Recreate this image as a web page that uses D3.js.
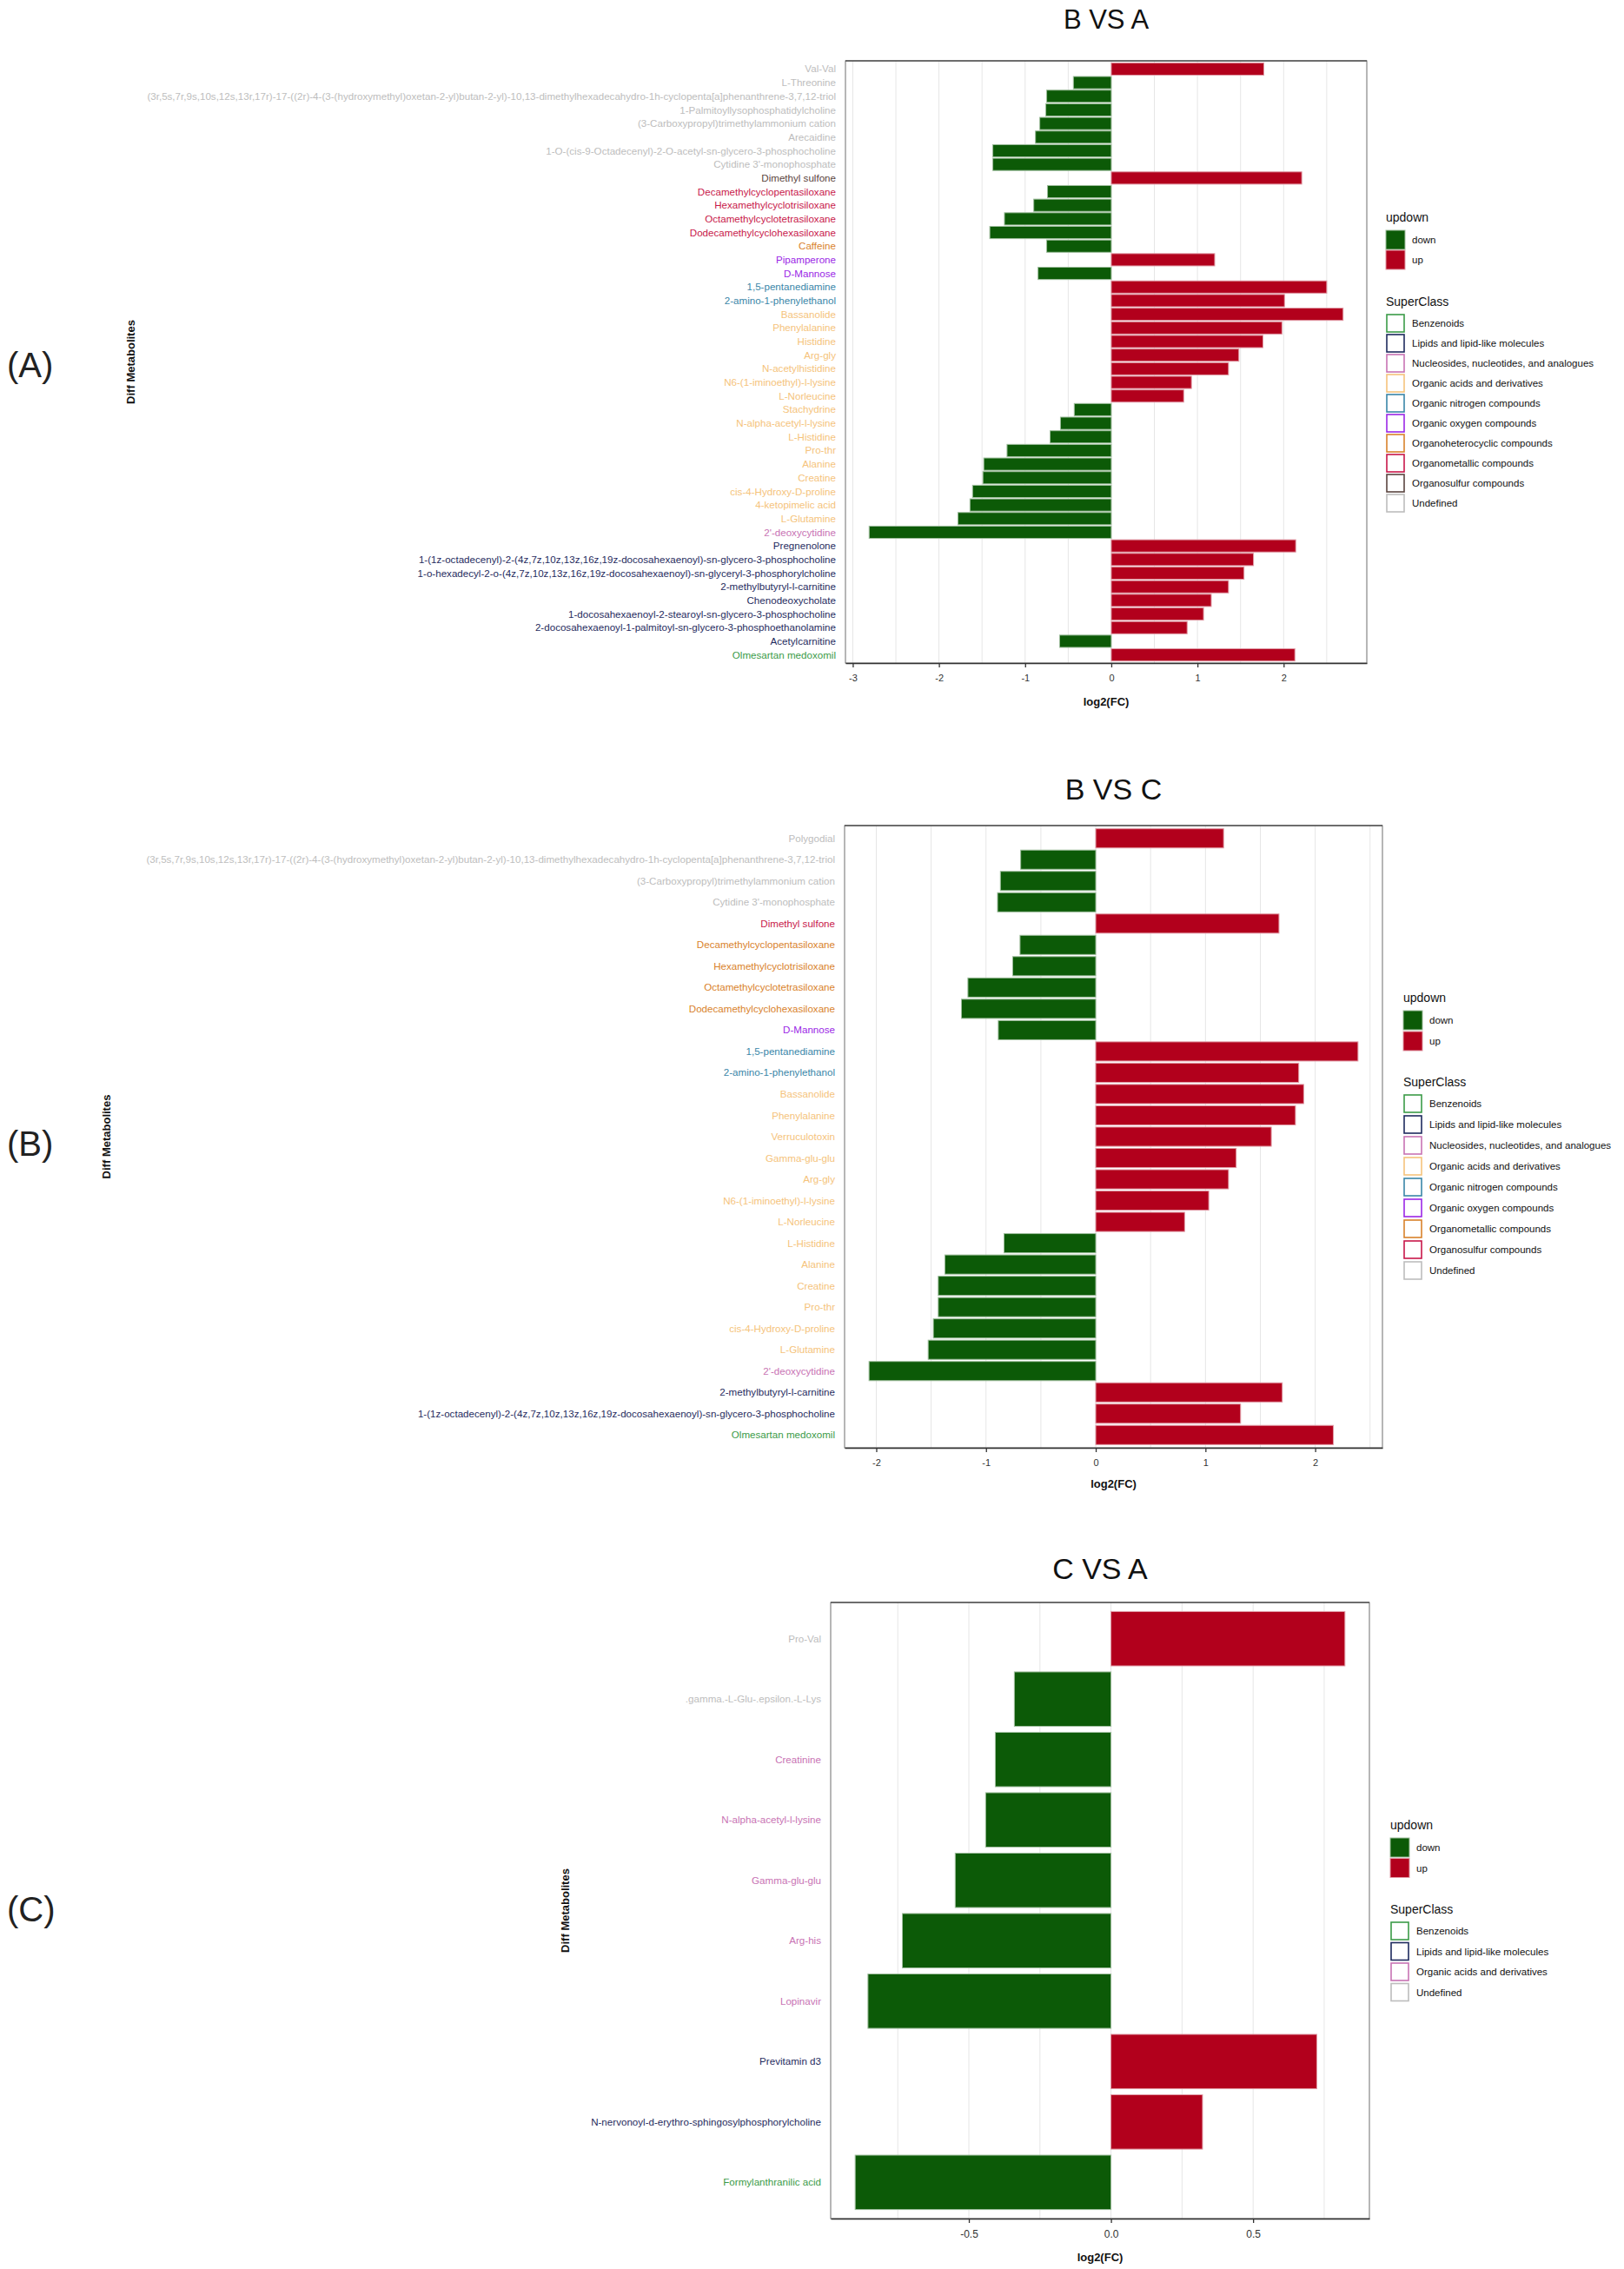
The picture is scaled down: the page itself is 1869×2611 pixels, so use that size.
<!DOCTYPE html>
<html><head><meta charset="utf-8">
<script src="https://cdn.jsdelivr.net/npm/d3@7/dist/d3.min.js"></script>
<style>body{margin:0;background:#fff}svg text{font-family:"Liberation Sans",Arial,Helvetica,sans-serif}</style>
</head><body>
<svg id="chart" width="1869" height="2611"></svg>
<script>
// SuperClass names
const BZ = "Benzenoids", LP = "Lipids and lipid-like molecules", NU = "Nucleosides, nucleotides, and analogues",
      OA = "Organic acids and derivatives", ON = "Organic nitrogen compounds", OO = "Organic oxygen compounds",
      OH = "Organoheterocyclic compounds", OM = "Organometallic compounds", OS = "Organosulfur compounds", UD = "Undefined";

// ---------- Panel A : B VS A ----------
const namesA = ["Val-Val","L-Threonine",
 "(3r,5s,7r,9s,10s,12s,13r,17r)-17-((2r)-4-(3-(hydroxymethyl)oxetan-2-yl)butan-2-yl)-10,13-dimethylhexadecahydro-1h-cyclopenta[a]phenanthrene-3,7,12-triol",
 "1-Palmitoyllysophosphatidylcholine","(3-Carboxypropyl)trimethylammonium cation","Arecaidine",
 "1-O-(cis-9-Octadecenyl)-2-O-acetyl-sn-glycero-3-phosphocholine","Cytidine 3'-monophosphate","Dimethyl sulfone",
 "Decamethylcyclopentasiloxane","Hexamethylcyclotrisiloxane","Octamethylcyclotetrasiloxane","Dodecamethylcyclohexasiloxane",
 "Caffeine","Pipamperone","D-Mannose","1,5-pentanediamine","2-amino-1-phenylethanol","Bassanolide","Phenylalanine",
 "Histidine","Arg-gly","N-acetylhistidine","N6-(1-iminoethyl)-l-lysine","L-Norleucine","Stachydrine",
 "N-alpha-acetyl-l-lysine","L-Histidine","Pro-thr","Alanine","Creatine","cis-4-Hydroxy-D-proline","4-ketopimelic acid",
 "L-Glutamine","2'-deoxycytidine","Pregnenolone",
 "1-(1z-octadecenyl)-2-(4z,7z,10z,13z,16z,19z-docosahexaenoyl)-sn-glycero-3-phosphocholine",
 "1-o-hexadecyl-2-o-(4z,7z,10z,13z,16z,19z-docosahexaenoyl)-sn-glyceryl-3-phosphorylcholine",
 "2-methylbutyryl-l-carnitine","Chenodeoxycholate","1-docosahexaenoyl-2-stearoyl-sn-glycero-3-phosphocholine",
 "2-docosahexaenoyl-1-palmitoyl-sn-glycero-3-phosphoethanolamine","Acetylcarnitine","Olmesartan medoxomil"];
const valuesA = [1.77,-0.44,-0.75,-0.76,-0.83,-0.88,-1.375,-1.375,2.21,-0.74,-0.90,-1.24,-1.41,-0.75,1.20,-0.85,
 2.50,2.01,2.69,1.98,1.76,1.48,1.36,0.93,0.84,-0.43,-0.59,-0.71,-1.21,-1.48,-1.49,-1.61,-1.64,-1.78,-2.81,
 2.14,1.65,1.54,1.36,1.16,1.07,0.88,-0.60,2.13];
const classesA = [UD,UD,UD,UD,UD,UD,UD,UD,OS,OM,OM,OM,OM,OH,OO,OO,ON,ON,
 OA,OA,OA,OA,OA,OA,OA,OA,OA,OA,OA,OA,OA,OA,OA,OA,NU,LP,LP,LP,LP,LP,LP,LP,LP,BZ];
const legendA = [BZ,LP,NU,OA,ON,OO,OH,OM,OS,UD];
const ticksA = [-3,-2,-1,0,1,2];

// ---------- Panel B : B VS C ----------
const namesB = ["Polygodial",
 "(3r,5s,7r,9s,10s,12s,13r,17r)-17-((2r)-4-(3-(hydroxymethyl)oxetan-2-yl)butan-2-yl)-10,13-dimethylhexadecahydro-1h-cyclopenta[a]phenanthrene-3,7,12-triol",
 "(3-Carboxypropyl)trimethylammonium cation","Cytidine 3'-monophosphate","Dimethyl sulfone",
 "Decamethylcyclopentasiloxane","Hexamethylcyclotrisiloxane","Octamethylcyclotetrasiloxane","Dodecamethylcyclohexasiloxane",
 "D-Mannose","1,5-pentanediamine","2-amino-1-phenylethanol","Bassanolide","Phenylalanine","Verruculotoxin",
 "Gamma-glu-glu","Arg-gly","N6-(1-iminoethyl)-l-lysine","L-Norleucine","L-Histidine","Alanine","Creatine","Pro-thr",
 "cis-4-Hydroxy-D-proline","L-Glutamine","2'-deoxycytidine","2-methylbutyryl-l-carnitine",
 "1-(1z-octadecenyl)-2-(4z,7z,10z,13z,16z,19z-docosahexaenoyl)-sn-glycero-3-phosphocholine","Olmesartan medoxomil"];
const valuesB = [1.165,-0.684,-0.869,-0.895,1.67,-0.69,-0.757,-1.165,-1.224,-0.888,2.39,1.85,1.895,1.82,1.60,
 1.28,1.21,1.03,0.81,-0.836,-1.375,-1.435,-1.435,-1.48,-1.527,-2.066,1.70,1.32,2.165];
const classesB = [UD,UD,UD,UD,OS,OM,OM,OM,OM,OO,ON,ON,OA,OA,OA,OA,OA,OA,OA,OA,OA,OA,OA,OA,OA,NU,LP,LP,BZ];
const legendB = [BZ,LP,NU,OA,ON,OO,OM,OS,UD];
const ticksB = [-2,-1,0,1,2];

// ---------- Panel C : C VS A ----------
const namesC = ["Pro-Val",".gamma.-L-Glu-.epsilon.-L-Lys","Creatinine","N-alpha-acetyl-l-lysine","Gamma-glu-glu",
 "Arg-his","Lopinavir","Previtamin d3","N-nervonoyl-d-erythro-sphingosylphosphorylcholine","Formylanthranilic acid"];
const valuesC = [0.823,-0.34,-0.407,-0.441,-0.548,-0.734,-0.855,0.724,0.322,-0.90];
const classesC = [UD,UD,OA,OA,OA,OA,OA,LP,LP,BZ];
const legendC = [BZ,LP,OA,UD];
const ticksC = [-0.5,0,0.5];

const upDownLabels = ["down","up"];

// ---------- styles ----------
const PALETTE = ["#3b9b48","#1f2b5e","#c873b4","#f5c37c","#3a86a8","#9b27e6","#d9822b","#c8174a","#5b4540"];
const GREY = "#bdbdbd";
const FILL = {down:"#0c5a07", up:"#b2001c"};
const FONT = '"Liberation Sans",Arial,Helvetica,sans-serif';
const hy = f => v => f(v).replace("\u2212", "-");

const svg = d3.select("#chart");

function panel(o){
  const g = svg.append("g");
  const [mn,mx] = d3.extent(o.values), r = mx - mn;
  const x = d3.scaleLinear().domain([mn - 0.05*r, mx + 0.05*r]).range([o.x0, o.x1]);
  const y = d3.scaleBand().domain(o.names).range([o.y0, o.y1]).paddingInner(0.1).paddingOuter(0.15);
  const colorOf = c => c === UD ? GREY : PALETTE[o.legend.indexOf(c)];
  const rows = o.names.map((n,i) => ({name:n, v:o.values[i], cls:o.classes[i]}));

  // grid
  const d = x.domain();
  const kk = d3.range(Math.ceil(d[0]/o.grid), Math.floor(d[1]/o.grid)+1).map(k => k*o.grid);
  g.selectAll("line.grid").data(kk).join("line")
    .attr("x1", v => x(v)).attr("x2", v => x(v)).attr("y1", o.y0).attr("y2", o.y1)
    .attr("stroke", "#e6e6e6").attr("stroke-width", 1);

  // bars
  g.selectAll("rect.bar").data(rows).join("rect")
    .attr("x", r => Math.min(x(0), x(r.v))).attr("width", r => Math.abs(x(r.v) - x(0)))
    .attr("y", r => y(r.name)).attr("height", y.bandwidth())
    .attr("fill", r => r.v < 0 ? FILL.down : FILL.up)
    .attr("stroke", r => d3.interpolateRgb(r.v < 0 ? FILL.down : FILL.up, "#ffffff")(0.6))
    .attr("stroke-width", 1);

  // border
  g.append("rect").attr("x", o.x0).attr("y", o.y0).attr("width", o.x1 - o.x0).attr("height", o.y1 - o.y0)
    .attr("fill", "none").attr("stroke", "#6e6e6e").attr("stroke-width", 1);
  g.append("line").attr("x1", o.x0).attr("x2", o.x1).attr("y1", o.y0).attr("y2", o.y0)
    .attr("stroke", "#555").attr("stroke-width", 1.6);

  // y labels
  g.selectAll("text.ylab").data(rows).join("text")
    .attr("x", o.x0 - 11).attr("y", r => y(r.name) + y.bandwidth()/2).attr("dy", "0.35em")
    .attr("text-anchor", "end").attr("font-size", 11.6).attr("fill", r => colorOf(r.cls))
    .text(r => r.name);

  // x axis
  const ax = g.append("g").attr("transform", `translate(0,${o.y1})`)
    .call(d3.axisBottom(x).tickValues(o.ticks).tickFormat(hy(o.fmt)).tickSize(5).tickSizeOuter(0).tickPadding(8));
  ax.select(".domain").attr("stroke", "#333").attr("stroke-width", 1.6);
  ax.selectAll(".tick line").attr("stroke", "#333").attr("stroke-width", 1.3);
  ax.selectAll(".tick text").attr("font-family", FONT).attr("font-size", o.tickSize).attr("fill", "#333");

  // titles
  g.append("text").attr("x", (o.x0 + o.x1)/2).attr("y", o.titleY).attr("text-anchor", "middle")
    .attr("font-size", o.titleSize).attr("fill", "#111").text(o.title);
  g.append("text").attr("x", (o.x0 + o.x1)/2).attr("y", o.xTitleY).attr("dy", "0.35em").attr("text-anchor", "middle")
    .attr("font-size", 13).attr("font-weight", "bold").attr("fill", "#111").text("log2(FC)");
  g.append("text").attr("transform", `translate(${o.yTitleX},${(o.y0 + o.y1)/2}) rotate(-90)`)
    .attr("dy", "0.35em").attr("text-anchor", "middle").attr("font-size", 13).attr("font-weight", "bold")
    .attr("fill", "#111").text("Diff Metabolites");
  g.append("text").attr("x", 8).attr("y", o.labelY).attr("font-size", 40).attr("fill", "#222").text(o.label);

  // legend
  const lg = g.append("g");
  lg.append("text").attr("x", o.lx).attr("y", o.ly).attr("dy", "0.35em").attr("font-size", 14).attr("fill", "#111").text("updown");
  upDownLabels.forEach((k, i) => {
    const ky = o.ly + 15 + i*o.step;
    lg.append("rect").attr("x", o.lx).attr("y", ky).attr("width", 22).attr("height", 22)
      .attr("fill", FILL[k]).attr("stroke", d3.interpolateRgb(FILL[k], "#fff")(0.6)).attr("stroke-width", 1);
    lg.append("text").attr("x", o.lx + 30).attr("y", ky + 11).attr("dy", "0.35em")
      .attr("font-size", 11.5).attr("fill", "#111").text(k);
  });
  const sy = o.ly + 97;
  lg.append("text").attr("x", o.lx).attr("y", sy).attr("dy", "0.35em").attr("font-size", 14).attr("fill", "#111").text("SuperClass");
  o.legend.forEach((c, i) => {
    const ky = sy + 14 + i*o.step;
    lg.append("rect").attr("x", o.lx + 1).attr("y", ky + 1).attr("width", 20).attr("height", 20)
      .attr("fill", "#fff").attr("stroke", colorOf(c)).attr("stroke-width", 1.6);
    lg.append("text").attr("x", o.lx + 30).attr("y", ky + 11).attr("dy", "0.35em")
      .attr("font-size", 11.5).attr("fill", "#111").text(c);
  });
}

panel({names:namesA, values:valuesA, classes:classesA, legend:legendA, ticks:ticksA, fmt:d3.format("d"),
  grid:0.5, x0:973, x1:1573, y0:70, y1:763, title:"B VS A", titleY:33, titleSize:31, xTitleY:807, yTitleX:150,
  tickSize:11, label:"(A)", labelY:434, lx:1595, ly:250, step:23});

panel({names:namesB, values:valuesB, classes:classesB, legend:legendB, ticks:ticksB, fmt:d3.format("d"),
  grid:0.5, x0:972, x1:1591, y0:950, y1:1666, title:"B VS C", titleY:920, titleSize:34, xTitleY:1707, yTitleX:122,
  tickSize:11, label:"(B)", labelY:1330, lx:1615, ly:1148, step:24});

panel({names:namesC, values:valuesC, classes:classesC, legend:legendC, ticks:ticksC, fmt:d3.format(".1f"),
  grid:0.25, x0:956, x1:1576, y0:1844, y1:2553, title:"C VS A", titleY:1817, titleSize:34, xTitleY:2597, yTitleX:650,
  tickSize:12, label:"(C)", labelY:2211, lx:1600, ly:2100, step:23.5});
</script>
</body></html>
